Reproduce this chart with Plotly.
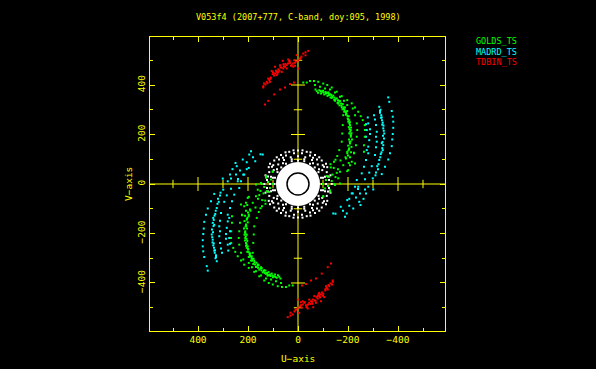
import numpy as np
import plotly.graph_objects as go

TITLE = "V053f4 (2007+777, C-band, doy:095, 1998)"
series_names = ["GOLDS_TS", "MADRD_TS", "TDBIN_TS"]
major_ticks = [-400, -200, 0, 200, 400]
major_labels = ["\u2212400", "\u2212200", "0", "200", "400"]
minor_ticks = [-500, -300, -100, 100, 300, 500]

# (u, v) samples; the conjugate half of each uv track is the negated point
green_u = [-21,-35,-48,-64,-81,-101,-117,-135,-155,-175,-197,-215,-228,-241,-251,-259,-267,-268,-267,-264,-264,-228,-224,-208,-197,-168,-148,-128,-101,
           -75,-95,-115,-128,-141,-155,-168,-179,-188,-197,-203,-205,-208,-211,-211,-208,-205,-197,-192,-181,-168,-161,-145,-128,-101,
           -70,-85,-100,-110,-120,-133,-146,-160,-172,-183,-192,-198,-201,-203,-205,-204,-201,-197,-190,
           -80,-92,-105,-118,-135,-148,-161,-175,-186,-194,-208,-212,-214,-216,-214,-212,-208,-203,
           -181,-179,-177,-175,-165,-157,-144,-131,-125,-112,-108,
           -68,-88,-108,-128,-148,-168,-184,-197,-219,-228,-235,-237,-235,-232,-224,-215,-201,
           -130,-143,-155,-150,-115,-135,-120,-160,-170,-100,-138,-150,
           -90,-102,-112,-124,-137,-150,-162,-174,-183,-192,-199,-205,-210,-207,-204,-200,
           -122,-130,-145,-158,-166,-178,-185,-192,-200,-206,-209,-212,-210,-202]
green_v = [410,410,416,416,413,406,400,390,373,355,339,326,309,292,274,258,238,218,191,157,130,83,126,76,52,2,-4,-25,-51,
           375,373,369,363,357,346,335,323,309,295,274,258,238,218,191,164,144,124,103,76,50,23,0,-31,-49,
           382,379,377,372,367,360,349,338,325,310,292,275,252,230,205,180,155,130,108,
           369,366,362,356,348,336,325,310,298,284,250,228,205,180,150,128,108,85,
           278,238,204,171,137,113,90,67,29,16,-18,
           400,393,386,382,370,353,336,319,305,278,245,218,191,157,124,90,56,
           80,65,45,28,32,12,-8,60,95,0,38,98,
           376,370,366,360,352,342,330,316,303,288,265,245,200,170,140,115,
           370,350,340,328,318,302,292,280,262,222,212,196,172,136]

cyan_u = [-361,-365,-375,-379,-381,-381,-379,-377,-375,-368,-361,-348,-335,-301,
          -325,-328,-335,-339,-341,-345,-344,-341,-339,-331,-325,-317,-312,-299,-281,-272,-245,-221,-195,-188,
          -330,-333,-336,-342,-338,-337,-334,-329,-320,-310,-262,-250,-232,-205,
          -304,-308,-312,-315,-312,-315,-312,-308,-295,-285,-268,-241,-219,-197,-171,-141,
          -279,-281,-288,-288,-285,-281,-281,-272,-264,-255,-235,-228,-215,-248,-268,
          -272,-275,-272,-275,-150,-180,-205,-240,
          -328,-332,-337,-343,-340,-335,-322]
cyan_v = [350,332,295,272,252,227,202,180,153,124,99,70,40,-22,
          312,288,269,248,225,204,184,157,137,121,97,72,46,23,-11,-38,-72,-99,-119,-132,
          300,278,258,236,170,145,128,108,60,35,-60,-85,-55,-88,
          278,261,238,211,191,171,148,117,72,46,19,-11,-38,-65,-92,-119,
          269,245,221,202,177,151,124,97,70,43,16,-11,-38,-38,-22,
          241,218,191,137,-120,-108,-60,-20,
          295,268,240,215,195,165,80]

red_u = [139,125,109,92,79,59,45,25,12,-1,-21,-41,92,61,39,5,112,85,65,45,19,-1,136,
         132,119,95,72,52,32,16,
         119,101,79,56,32,19,139,105,72,
         100,88,70,50,35,15,-10,-30,
         130,115,96,85,74,66,52,40,28,8,-8,-14,-30,122,110,82,58,34,12]
red_v = [395,413,430,447,463,467,480,480,490,500,527,538,474,498,503,521,413,440,453,467,474,467,406,
         321,336,362,382,390,404,410,
         426,444,453,476,490,487,390,457,480,
         452,458,472,485,495,500,510,520,
         402,420,438,452,458,470,474,487,478,495,506,515,532,408,425,446,484,498,478]

ring_u = [135,130,117,95,68,35,0,-35,-68,-95,-117,-130,
          108,97,79,56,29,0,-29,-56,-79,-97,-108,-112,
          92,82,67,48,25,0,-25,-48,-67,-82,-92,-95,
          120,104,60,-60,-104,-120,
          124,115,99,76,48,16,-16,-48,-76,-99,-115,-124,
          100,84,60,25,-25,-60,-84,-100,
          18,50,85,112,-18,-50,-85,-112]
ring_v = [0,35,68,95,117,130,135,130,117,95,68,35,
          29,56,79,97,108,112,108,97,79,56,29,0,
          25,48,67,82,92,95,92,82,67,48,25,0,
          30,70,106,106,70,30,
          16,48,76,99,115,124,124,115,99,76,48,16,
          25,60,84,100,100,84,60,25,
          136,128,108,82,136,128,108,82]

hub_u = [0]
hub_v = [0]

def full(a):
    a = np.array(a, float)
    return np.concatenate([a, -a])

YEL = "#ffff00"
fig = go.Figure()

# axes through the origin sit under the data
fig.add_trace(go.Scatter(x=[592, -588], y=[0, 0], mode="lines", line=dict(color=YEL, width=1)))
fig.add_trace(go.Scatter(x=[0, 0], y=[-594, 594], mode="lines", line=dict(color=YEL, width=1)))
for vals, size in [(major_ticks, 10), (minor_ticks, 6)]:
    nz = [t for t in vals if t != 0]
    fig.add_trace(go.Scatter(x=nz, y=[0]*len(nz), mode="markers",
                             marker=dict(symbol="line-ns", size=size, line=dict(width=1, color=YEL))))
    fig.add_trace(go.Scatter(x=[0]*len(nz), y=nz, mode="markers",
                             marker=dict(symbol="line-ew", size=size, line=dict(width=1, color=YEL))))

fig.add_trace(go.Scatter(x=hub_u, y=hub_v, mode="markers", marker=dict(symbol="circle", size=44, color="#ffffff")))
fig.add_trace(go.Scatter(x=hub_u, y=hub_v, mode="markers", marker=dict(symbol="circle-open", size=22, color="#000000", line=dict(width=1.5, color="#000000"))))
fig.add_trace(go.Scatter(x=full(ring_u), y=full(ring_v), mode="markers", marker=dict(symbol="square", size=2, color="#ffffff")))
for u, v, c in [(green_u, green_v, "#00ff00"), (cyan_u, cyan_v, "#00ffff"), (red_u, red_v, "#ff0000")]:
    fig.add_trace(go.Scatter(x=full(u), y=full(v), mode="markers", marker=dict(symbol="square", size=2, color=c)))

font = dict(family="DejaVu Sans Mono", size=9.5, color=YEL)
axis = dict(tickvals=major_ticks, ticktext=major_labels, ticks="inside", ticklen=5, tickwidth=1, tickcolor=YEL,
            minor=dict(tickvals=minor_ticks, ticks="inside", ticklen=3, tickwidth=1, tickcolor=YEL),
            showline=True, linecolor=YEL, linewidth=1, mirror="allticks", showgrid=False, zeroline=False,
            tickfont=font)
fig.update_xaxes(range=[592, -588], **axis)
fig.update_yaxes(range=[-594, 594], tickangle=-90, **axis)

ann = [
    dict(x=298.5/596, y=1-17/369, text=TITLE, font=dict(family="DejaVu Sans Mono", size=8.5, color=YEL)),
    dict(x=298/596, y=1-358/369, text="U\u2212axis", font=font),
    dict(x=128/596, y=1-184/369, text="V\u2212axis", font=font, textangle=-90),
]
for name, col, py in zip(series_names, ["#00ff00", "#00ffff", "#ff0000"], [41, 52, 62]):
    ann.append(dict(x=474/596, y=1-py/369, text=name, xanchor="left",
                    font=dict(family="DejaVu Sans Mono", size=8.5, color=col)))
for a in ann:
    a.update(xref="paper", yref="paper", showarrow=False)
    a["x"] = (a["x"]*596-150)/295
    a["y"] = ((a["y"]*369)-38)/294
    a.setdefault("xanchor", "center")
    a["yanchor"] = "middle"

fig.update_layout(width=596, height=369, autosize=False, showlegend=False,
                  margin=dict(l=150, r=151, t=37, b=38, pad=0),
                  paper_bgcolor="#000000", plot_bgcolor="#000000", annotations=ann)

fig.write_html("out.html", config=dict(displayModeBar=False),
               post_script="document.body.style.margin='0';document.body.style.background='#000';")
